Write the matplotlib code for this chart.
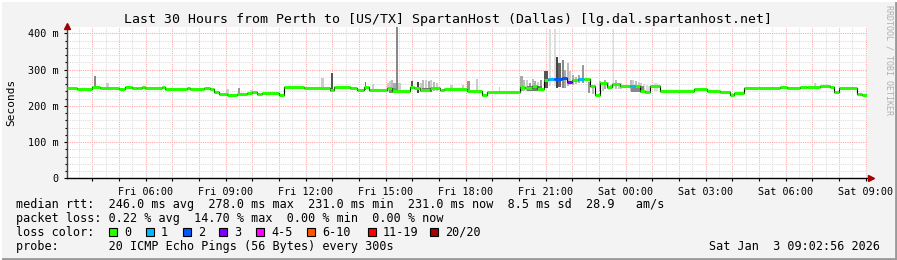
import numpy as np
import matplotlib.pyplot as plt
from matplotlib.patches import Rectangle
from matplotlib.lines import Line2D

plt.rcParams['font.family'] = ['DejaVu Sans Mono', 'DejaVu Sans']

# hours counted from Fri 00:00
t_start = 3.05
t_end = 33.05

# median rtt steps: start hour, value in ms, loss colour index
med_t = [3.05, 3.425, 3.99, 4.30, 4.99, 5.24, 5.49, 5.675, 5.86, 5.99, 6.61, 6.74,
         7.55, 7.675, 8.175, 8.425, 8.55, 8.74, 9.05, 9.425, 9.80, 9.99, 10.175,
         10.36, 10.99, 11.175, 11.925, 12.925, 13.05, 13.675, 13.925, 14.175, 14.36,
         15.05, 15.24, 15.925, 16.05, 16.30, 16.675, 17.05, 17.175,
         18.05, 18.175, 18.61, 18.80, 20.05, 20.24, 20.49, 20.675, 20.925, 21.10,
         21.30, 21.61, 21.80, 21.99, 22.20, 22.425, 22.675, 22.86, 23.05, 23.30,
         23.49, 23.80, 24.175, 24.35, 24.55, 24.74, 24.925, 25.30, 26.55, 27.05,
         27.55, 27.925, 28.05, 28.425, 29.80, 30.05, 30.55, 30.80, 31.30, 31.675,
         31.80, 31.99, 32.675, 32.86]
med_v = [248, 245, 253, 248, 245, 251, 248, 250, 252, 248, 252, 247,
         249, 247, 249, 246, 238, 233, 230, 232, 236, 238, 233,
         236, 230, 251, 248, 244, 251, 249, 243, 253, 243,
         248, 242, 252, 248, 243, 248, 243, 247,
         242, 240, 230, 237, 253, 248, 255, 247, 272, 273,
         274, 276, 265, 272, 275, 275, 255, 231, 264, 253,
         259, 254, 254, 254, 242, 239, 254, 242, 247, 242,
         238, 231, 236, 249, 251, 249, 251, 253, 255, 253,
         239, 249, 233, 229]
med_loss = [0] * len(med_t)
for i, h in enumerate(med_t):
    if h in (21.10, 22.20, 24.175):
        med_loss[i] = 1
    elif h in (21.30, 21.61):
        med_loss[i] = 2
    elif h == 21.80:
        med_loss[i] = 3

# smoke: start hour, width (h), low ms, high ms, shade
smoke = [
    (4.05, 0.08, 245, 283, '#888888'),
    (4.52, 0.12, 248, 262, '#cccccc'),
    (9.02, 0.10, 228, 246, '#cccccc'),
    (9.47, 0.07, 232, 248, '#999999'),
    (9.92, 0.10, 236, 244, '#cccccc'),
    (12.58, 0.10, 245, 278, '#cccccc'),
    (12.95, 0.07, 240, 290, '#555555'),
    (14.22, 0.06, 243, 267, '#777777'),
    (14.48, 0.10, 243, 260, '#cccccc'),
    (15.05, 0.08, 238, 262, '#cccccc'),
    (15.13, 0.08, 237, 268, '#cccccc'),
    (15.21, 0.08, 236, 270, '#bbbbbb'),
    (15.29, 0.08, 236, 264, '#aaaaaa'),
    (15.48, 0.08, 238, 262, '#cccccc'),
    (15.13, 0.30, 236, 250, '#888888'),
    (15.40, 0.08, 240, 420, '#888888'),
    (15.95, 0.08, 248, 269, '#555555'),
    (16.17, 0.08, 236, 265, '#444444'),
    (16.27, 0.08, 238, 262, '#cccccc'),
    (16.37, 0.08, 238, 270, '#bbbbbb'),
    (16.47, 0.08, 238, 272, '#cccccc'),
    (16.57, 0.08, 239, 268, '#aaaaaa'),
    (16.67, 0.08, 240, 272, '#cccccc'),
    (16.77, 0.08, 240, 266, '#bbbbbb'),
    (16.87, 0.08, 240, 262, '#cccccc'),
    (16.35, 0.40, 238, 250, '#777777'),
    (17.43, 0.10, 247, 256, '#cccccc'),
    (17.85, 0.10, 245, 258, '#cccccc'),
    (18.05, 0.10, 240, 269, '#999999'),
    (18.40, 0.08, 240, 274, '#cccccc'),
    (19.24, 0.06, 237, 253, '#cccccc'),
    (20.05, 0.10, 240, 283, '#aaaaaa'),
    (20.15, 0.08, 242, 272, '#bbbbbb'),
    (20.27, 0.08, 240, 270, '#cccccc'),
    (20.37, 0.08, 240, 262, '#999999'),
    (20.47, 0.08, 242, 274, '#bbbbbb'),
    (20.57, 0.08, 240, 268, '#aaaaaa'),
    (20.67, 0.08, 240, 266, '#cccccc'),
    (20.77, 0.08, 242, 272, '#999999'),
    (20.30, 0.55, 240, 255, '#777777'),
    (20.95, 0.14, 250, 297, '#555555'),
    (21.14, 0.05, 255, 413, '#dddddd'),
    (21.33, 0.05, 255, 413, '#dddddd'),
    (21.40, 0.08, 250, 334, '#444444'),
    (21.48, 0.08, 252, 318, '#666666'),
    (21.60, 0.08, 248, 325, '#888888'),
    (21.68, 0.08, 250, 300, '#aaaaaa'),
    (21.80, 0.08, 255, 317, '#bbbbbb'),
    (21.88, 0.08, 258, 295, '#cccccc'),
    (22.00, 0.08, 258, 285, '#aaaaaa'),
    (22.10, 0.08, 260, 280, '#bbbbbb'),
    (22.20, 0.08, 262, 284, '#aaaaaa'),
    (22.36, 0.07, 262, 312, '#999999'),
    (22.60, 0.08, 235, 265, '#999999'),
    (22.72, 0.08, 232, 258, '#bbbbbb'),
    (23.00, 0.08, 240, 268, '#bbbbbb'),
    (23.10, 0.08, 242, 262, '#cccccc'),
    (23.20, 0.08, 245, 270, '#aaaaaa'),
    (23.30, 0.08, 245, 266, '#cccccc'),
    (23.40, 0.08, 245, 258, '#bbbbbb'),
    (23.52, 0.05, 250, 413, '#dddddd'),
    (23.60, 0.08, 245, 270, '#bbbbbb'),
    (23.70, 0.08, 245, 264, '#cccccc'),
    (23.80, 0.08, 245, 262, '#cccccc'),
    (24.15, 0.08, 240, 272, '#bbbbbb'),
    (24.25, 0.08, 240, 270, '#cccccc'),
    (24.35, 0.08, 238, 268, '#bbbbbb'),
    (24.45, 0.08, 237, 265, '#cccccc'),
    (24.55, 0.08, 236, 262, '#cccccc'),
    (24.65, 0.08, 236, 260, '#dddddd'),
    (24.75, 0.08, 238, 258, '#dddddd'),
    (24.85, 0.08, 240, 256, '#dddddd'),
    (24.20, 0.50, 238, 254, '#888888'),
    (25.05, 0.15, 242, 262, '#dddddd'),
    (31.05, 0.10, 251, 264, '#cccccc'),
]

loss_names = ['0', '1', '2', '3', '4-5', '6-10', '11-19', '20/20']
loss_colors = ['#26ff00', '#00b8ff', '#0059ff', '#7e00ff', '#ff00ff',
               '#ff5500', '#ff0000', '#a10000']

tick_hours = [6, 9, 12, 15, 18, 21, 24, 27, 30, 33]
tick_labels = ['Fri 06:00', 'Fri 09:00', 'Fri 12:00', 'Fri 15:00', 'Fri 18:00',
               'Fri 21:00', 'Sat 00:00', 'Sat 03:00', 'Sat 06:00', 'Sat 09:00']

title = 'Last 30 Hours from Perth to [US/TX] SpartanHost (Dallas) [lg.dal.spartanhost.net]'
line_rtt = 'median rtt:  246.0 ms avg  278.0 ms max  231.0 ms min  231.0 ms now  8.5 ms sd  28.9   am/s'
line_loss = 'packet loss: 0.22 % avg  14.70 % max  0.00 % min  0.00 % now'
line_probe = 'probe:       20 ICMP Echo Pings (56 Bytes) every 300s'
stamp = 'Sat Jan  3 09:02:56 2026'

W, H = 897, 260
fig = plt.figure(figsize=(W / 100, H / 100), dpi=100, facecolor='#f3f3f3')
ax = fig.add_axes([67 / W, (H - 178.3) / H, 800 / W, 151 / H])
ax.set_facecolor('white')
ymax = 151 / 0.3625
ax.set_xlim(t_start, t_end)
ax.set_ylim(0, ymax)

# grid
for h in np.arange(3.5, 33.1, 0.5):
    if abs(h - round(h)) > 0.01:
        ax.axvline(h, color='#dddddd', lw=0.8, ls=(0, (1, 1)), zorder=0)
for h in range(4, 34):
    ax.axvline(h, color='#ffaaaa', lw=0.8, ls=(0, (1, 1)), zorder=0)
for v in range(20, 420, 20):
    if v % 100:
        ax.axhline(v, color='#dddddd', lw=0.8, ls=(0, (1, 1)), zorder=0)
for v in range(100, 500, 100):
    ax.axhline(v, color='#ffaaaa', lw=0.8, ls=(0, (1, 1)), zorder=0)

# smoke
for t0, w, lo, hi, c in smoke:
    ax.bar(t0, hi - lo, width=w, bottom=lo, align='edge', color=c, lw=0, zorder=1)

# median
st = med_t + [t_end]
sv = med_v + [med_v[-1]]
ax.step(st, sv, where='post', color='black', lw=0.8, zorder=2)
for i in range(len(med_t)):
    ax.hlines(med_v[i], st[i], st[i + 1], color=loss_colors[med_loss[i]],
              lw=2.2, zorder=3, capstyle='butt')

ax.set_xticks(tick_hours)
ax.set_xticklabels(tick_labels, fontsize=7.3)
ax.set_xticks(np.arange(4, 34, 1), minor=True)
ax.set_yticks([0, 100, 200, 300, 400])
ax.set_yticklabels(['0', '100 m', '200 m', '300 m', '400 m'], fontsize=7.3)
ax.set_yticks(np.arange(20, 420, 20), minor=True)
ax.tick_params(which='both', direction='out', length=2, width=0.8, pad=4, colors='black')
ax.tick_params(axis='y', which='minor', length=1.5)
for s in ['top', 'right']:
    ax.spines[s].set_visible(False)
for s in ['left', 'bottom']:
    ax.spines[s].set_linewidth(1)
ax.spines['left'].set_color('#444444')
ax.spines['bottom'].set_color('black')
ax.plot([t_start], [ymax + 4], marker='^', color='#a00000', ms=5, clip_on=False, zorder=5)
ax.plot([t_end + 0.15], [0], marker='>', color='#a00000', ms=5, clip_on=False, zorder=5)

ax.set_ylabel('Seconds', fontsize=8)
ax.yaxis.set_label_coords(-51 / 800, 0.5)


def px(x, y):
    return x / W, 1 - y / H


fig.text(*px(448, 19.3), title, fontsize=9.5, ha='center', va='center')
fig.text(*px(889, 60), 'RRDTOOL / TOBI OETIKER', fontsize=6, color='#b0b0b0',
         rotation=270, ha='center', va='center')

fs = 8.5
fig.text(*px(16, 204.3), line_rtt, fontsize=fs, va='center')
fig.text(*px(16, 218.3), line_loss, fontsize=fs, va='center')
fig.text(*px(16, 232.3), 'loss color:', fontsize=fs, va='center')
fig.text(*px(16, 246.3), line_probe, fontsize=fs, va='center')
fig.text(*px(880, 246.3), stamp, fontsize=fs, va='center', ha='right')

sq_x = [109, 146, 183, 219, 256, 307, 368, 430]
for x, name, c in zip(sq_x, loss_names, loss_colors):
    fig.add_artist(Rectangle(px(x, 236), 8 / W, 8 / H, transform=fig.transFigure,
                             facecolor=c, edgecolor='black', lw=0.8))
    fig.text(*px(x + 15, 232.3), name, fontsize=fs, va='center')

# frame
fig.add_artist(Line2D([0, 1], [1.5 / H, 1.5 / H], color='#999999', lw=2, transform=fig.transFigure))
fig.add_artist(Line2D([1 - 1.5 / W, 1 - 1.5 / W], [0, 1], color='#999999', lw=2, transform=fig.transFigure))
fig.add_artist(Line2D([0, 1], [1 - 1 / H, 1 - 1 / H], color='#ffffff', lw=1.5, transform=fig.transFigure))
fig.add_artist(Line2D([1 / W, 1 / W], [0, 1], color='#ffffff', lw=1.5, transform=fig.transFigure))

fig.savefig('out.png', dpi=100, facecolor=fig.get_facecolor())
